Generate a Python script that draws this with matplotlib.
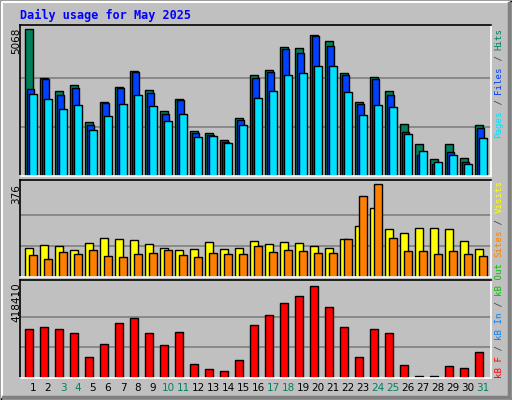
import matplotlib
matplotlib.use("Agg")
import matplotlib.pyplot as plt
import numpy as np

days = list(range(1, 32))
hits = [5068,3368,2930,3127,1885,2575,3092,3620,2989,2265,2678,1575,1506,1265,2000,3471,3644,4437,4403,4861,4644,3540,2575,3403,2955,1817,1127,610,1127,645,1782]
files = [3023,3334,2817,3058,1782,2540,3058,3575,2885,2161,2644,1506,1437,1196,1954,3368,3575,4368,4230,4816,4471,3471,2506,3334,2817,1541,748,437,851,494,1679]
pages = [2850,2678,2333,2471,1610,2092,2506,2817,2437,1920,2161,1368,1403,1162,1782,2713,2955,3471,3540,3782,3782,2920,2127,2471,2402,1472,886,506,748,437,1334]
visits = [118,127,123,110,135,155,151,147,131,118,110,114,139,114,118,143,131,139,135,123,118,151,204,278,192,176,196,196,192,143,114]
sites = [86,70,98,90,110,82,78,90,94,110,86,78,94,90,90,123,98,110,102,94,94,151,327,376,159,106,102,90,102,90,82]
kbytes = [226003,235165,226003,207679,97730,157285,253489,276395,207679,152704,212260,65662,42757,33595,83986,244327,285557,340531,372599,418410,322207,235165,97730,226003,207679,61081,10689,10689,56500,47338,120636]
weekend = [3,4,10,11,17,18,24,25,31]
title = "Daily usage for May 2025"

W, H = 512, 400
BG = "#C0C0C0"
fig = plt.figure(figsize=(W/100, H/100), dpi=100, facecolor=BG)

def ax_px(x0, y0, x1, y1):
    return fig.add_axes([x0/W, 1-y1/H, (x1-x0)/W, (y1-y0)/H])

# frame decorations
deco = fig.add_axes([0, 0, 1, 1]); deco.set_xlim(0, W); deco.set_ylim(H, 0); deco.axis("off")
deco.plot([0.5, W-0.5, W-0.5, 0.5, 0.5], [0.5, 0.5, H-0.5, H-0.5, 0.5], color="black", lw=1)
deco.plot([2, W-3], [2, 2], color="white", lw=1.5)
deco.plot([2, 2], [2, H-3], color="white", lw=1.5)
deco.plot([W-3, W-3], [3, H-3], color="#808080", lw=2.5)
deco.plot([3, W-3], [H-3, H-3], color="#808080", lw=2.5)
deco.text(20, 15, title, color="#0000FF", fontsize=8.5, fontweight="bold", family="DejaVu Sans Mono", va="center")

xl = (0.133, 31.53)
d = np.array(days)

def style(ax, ymax):
    ax.set_facecolor(BG)
    ax.set_xlim(*xl)
    ax.set_ylim(0, ymax)
    ax.set_xticks([]); ax.set_yticks([])
    for s in ax.spines.values():
        s.set_linewidth(1.2)
    ax.spines["left"].set_color("black"); ax.spines["top"].set_color("black")
    ax.spines["right"].set_color("white"); ax.spines["bottom"].set_color("white")

# top panel
m1 = 5068
ax1 = ax_px(20, 25, 491, 176.5)
style(ax1, (176-25)/147*m1)
for f in (1/3, 2/3):
    ax1.axhline(m1*f, color="#808080", lw=1.2, zorder=0)
ax1.bar(d-0.51, hits, width=0.49, align="edge", color="#00805C", edgecolor="black", lw=1)
ax1.bar(d-0.38, files, width=0.47, align="edge", color="#0040FF", edgecolor="black", lw=1)
ax1.bar(d-0.27, pages, width=0.52, align="edge", color="#00E0FF", edgecolor="black", lw=1)

# middle panel
m2 = 376
ax2 = ax_px(20, 180, 491, 276.5)
style(ax2, (96.3/92)*m2)
for f in (1/3, 2/3):
    ax2.axhline(m2*f, color="#808080", lw=1.2, zorder=0)
ax2.bar(d-0.51, visits, width=0.49, align="edge", color="#FFFF00", edgecolor="black", lw=1)
ax2.bar(d-0.25, sites, width=0.5, align="edge", color="#FF8000", edgecolor="black", lw=1)

# bottom panel
m3 = 418410
ax3 = ax_px(20, 280, 491, 378)
style(ax3, (97.7/91.3)*m3)
for f in (1/3, 2/3):
    ax3.axhline(m3*f, color="#808080", lw=1.2, zorder=0)
ax3.bar(d-0.51, kbytes, width=0.49, align="edge", color="#FF0000", edgecolor="black", lw=1)

# y max labels
deco.text(16, 28, "5068", rotation=90, ha="center", va="top", fontsize=7.5, color="black")
deco.text(16, 184, "376", rotation=90, ha="center", va="top", fontsize=7.5, color="black")
deco.text(16, 282, "418410", rotation=90, ha="center", va="top", fontsize=7.5, color="black")

# day labels
for dd in days:
    deco.text(18+15*dd, 388, str(dd), ha="center", va="center", fontsize=7.5,
              color="#008060" if dd in weekend else "black")

# right-side rotated legends
cw = 5.5
def vlabel(parts, ybottom, x=499):
    y = ybottom
    for txt, col in parts:
        deco.text(x, y, txt, rotation=90, ha="center", va="bottom", color=col,
                  family="DejaVu Sans Mono", fontsize=6.6)
        y -= cw*len(txt)

vlabel([("Pages", "#00E0FF"), (" / ", "#404040"), ("Files", "#0040FF"), (" / ", "#404040"), ("Hits", "#00805C")], 138)
vlabel([("kB F", "#FF0000"), (" / ", "#404040"), ("kB In", "#0080FF"), (" / ", "#404040"), ("kB Out", "#00C000"),
        (" ", "black"), ("Sites", "#FF8000"), (" / ", "#404040"), ("Visits", "#FFFF00")], 378)

fig.savefig("out.png", dpi=100, facecolor=BG)
